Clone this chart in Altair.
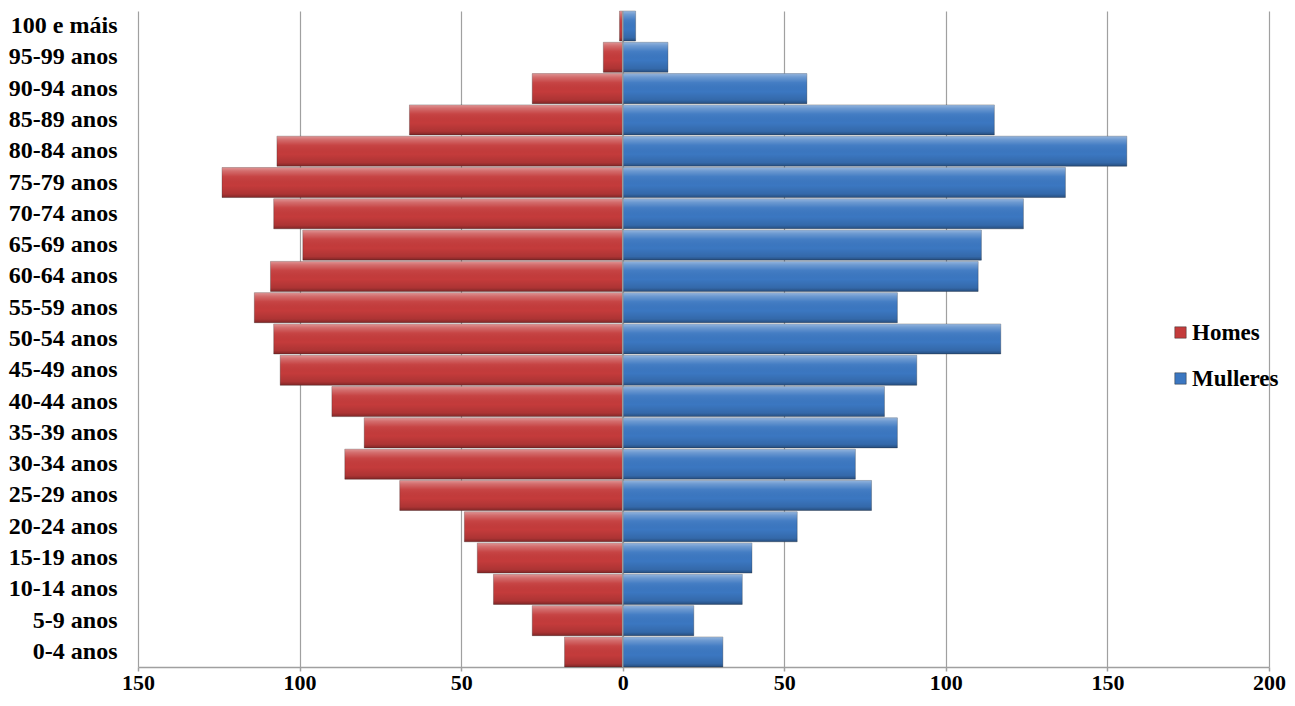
import altair as alt
import pandas as pd

ages = ["100 e máis", "95-99 anos", "90-94 anos", "85-89 anos", "80-84 anos",
        "75-79 anos", "70-74 anos", "65-69 anos", "60-64 anos", "55-59 anos",
        "50-54 anos", "45-49 anos", "40-44 anos", "35-39 anos", "30-34 anos",
        "25-29 anos", "20-24 anos", "15-19 anos", "10-14 anos", "5-9 anos", "0-4 anos"]
homes = [1, 6, 28, 66, 107, 124, 108, 99, 109, 114, 108, 106, 90, 80, 86, 69, 49, 45, 40, 28, 18]
mulleres = [4, 14, 57, 115, 156, 137, 124, 111, 110, 85, 117, 91, 81, 85, 72, 77, 54, 40, 37, 22, 31]
x_ticks = [-150, -100, -50, 0, 50, 100, 150, 200]

rows = []
for a, h, m in zip(ages, homes, mulleres):
    rows.append({"age": a, "sexo": "Homes", "valor": -h})
    rows.append({"age": a, "sexo": "Mulleres", "valor": m})
df = pd.DataFrame(rows)

FONT = "Liberation Serif"

x_enc = alt.X("valor:Q",
              scale=alt.Scale(domain=[-150, 200], nice=False, zero=False),
              axis=alt.Axis(values=x_ticks, labelExpr="abs(datum.value)", title=None,
                            grid=True, gridColor="#a0a0a0", gridWidth=1.2,
                            domainColor="#a0a0a0", domainWidth=1.5,
                            tickColor="#a0a0a0", tickSize=4, tickWidth=1.5,
                            labelFont=FONT, labelFontSize=22, labelFontWeight="bold",
                            labelColor="black", labelPadding=1, labelFlush=False))
y_enc = alt.Y("age:N", sort=ages,
              scale=alt.Scale(paddingInner=0.04, paddingOuter=0.0),
              axis=alt.Axis(title=None, ticks=False, domain=False, grid=False,
                            labelFont=FONT, labelFontSize=24, labelFontWeight="bold",
                            labelColor="black", labelPadding=21, labelAlign="right"))

bars = alt.Chart(df).mark_bar(stroke="#2a2a2a", strokeWidth=0.6, strokeOpacity=0.5).encode(
    x=x_enc,
    y=y_enc,
    color=alt.Color("sexo:N",
                    scale=alt.Scale(domain=["Homes", "Mulleres"], range=["#c43b3b", "#3b77c1"]),
                    legend=alt.Legend(title=None, orient="none", legendX=1031, legendY=310,
                                      symbolType="square", symbolSize=130,
                                      symbolStrokeColor="#333", symbolStrokeWidth=0.5,
                                      labelFont=FONT, labelFontSize=23, labelFontWeight="bold",
                                      labelColor="black", rowPadding=22, labelOffset=0)),
)

shine = alt.Chart(df).mark_bar(
    color=alt.Gradient(
        gradient="linear", x1=0, y1=0, x2=0, y2=1,
        stops=[
            alt.GradientStop(offset=0, color="rgba(255,255,255,0.45)"),
            alt.GradientStop(offset=0.12, color="rgba(255,255,255,0.25)"),
            alt.GradientStop(offset=0.3, color="rgba(255,255,255,0.05)"),
            alt.GradientStop(offset=0.6, color="rgba(0,0,0,0.0)"),
            alt.GradientStop(offset=0.88, color="rgba(0,0,0,0.12)"),
            alt.GradientStop(offset=1, color="rgba(0,0,0,0.35)"),
        ],
    )
).encode(x=x_enc, y=y_enc)

zero = pd.DataFrame({"v": [0]})
zero_line = alt.Chart(zero).mark_rule(color="#9a9a9a", strokeWidth=1.5).encode(x="v:Q")

chart = alt.layer(bars, shine, zero_line).properties(
    width=1131, height=656,
    autosize=alt.AutoSizeParams(type="none"),
    padding={"left": 130, "top": 3, "right": 18, "bottom": 31},
).configure_view(stroke=None)

chart.save("out.html", embed_options={"renderer": "svg", "actions": False})
